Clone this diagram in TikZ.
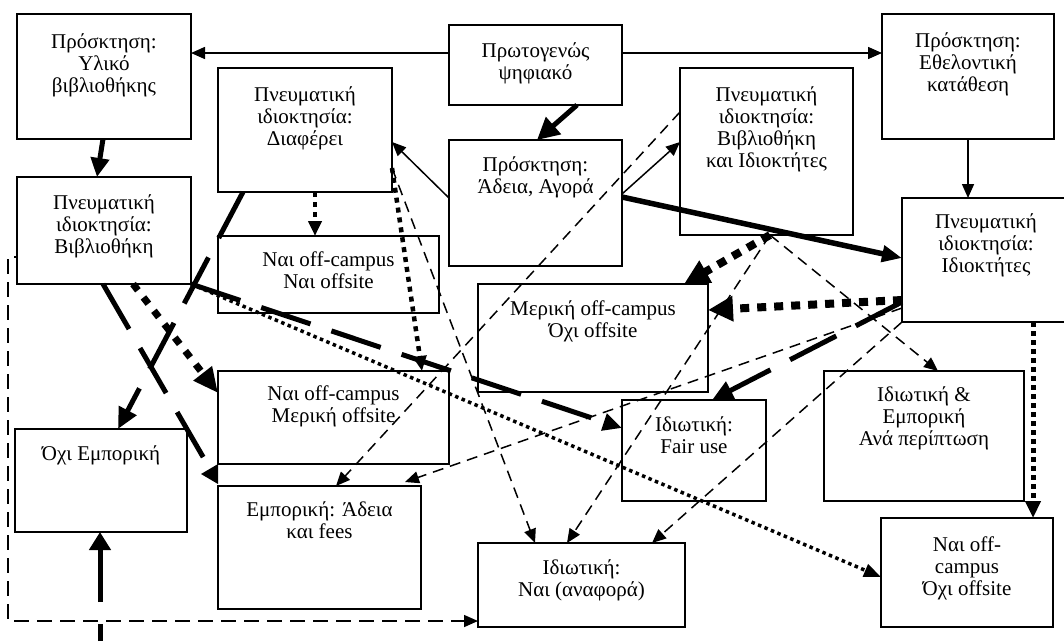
\documentclass[tikz,border=0pt]{standalone}
\usepackage{fontspec}
\setmainfont{Liberation Serif}
\usetikzlibrary{arrows.meta}
\begin{document}
\begin{tikzpicture}[x=1pt,y=-1pt,
  box/.style={draw, line width=1.6pt, fill=white, rectangle, outer sep=0pt, inner sep=0pt},
  txt/.style={align=center, font=\fontsize{21}{22}\selectfont, inner sep=0pt, anchor=base},
  thinA/.style={line width=1.5pt, -{Triangle[length=14pt,width=12pt]}},
  thinD/.style={thinA, dash pattern=on 11pt off 7pt},
  fat/.style={line width=5pt, -{Triangle[length=21pt,width=19pt]}},
  fatD/.style={fat, dash pattern=on 52pt off 22pt},
  sqK/.style={line width=4.5pt, line cap=butt, dash pattern=on 5pt off 5pt, -{Triangle[length=15pt,width=13pt]}},
  sqL/.style={line width=7pt, line cap=butt, dash pattern=on 8pt off 9pt, -{Triangle[length=25pt,width=22pt]}},
  sqT/.style={line width=8pt, line cap=butt, dash pattern=on 9pt off 8pt, -{Triangle[length=25pt,width=24pt]}},
  sqY/.style={line width=5pt, line cap=butt, dash pattern=on 5pt off 4pt, -{Triangle[length=17pt,width=15pt]}},
  sqM/.style={line width=3.5pt, line cap=butt, dash pattern=on 3.5pt off 3.5pt, -{Triangle[length=17pt,width=13pt]}},
  elbow/.style={line width=1.5pt, dash pattern=on 15pt off 8pt, -{Triangle[length=14pt,width=12pt]}}
]
\useasboundingbox (0,0) rectangle (1064,641);

% boxes
\node[box, minimum width=174pt, minimum height=125pt] (b1) at (104,76.5) {};
\node[box, minimum width=173pt, minimum height=80pt] (b2) at (535.5,65) {};
\node[box, minimum width=172pt, minimum height=125pt] (b3) at (968,76.5) {};
\node[box, minimum width=174pt, minimum height=124pt] (b4) at (305,130) {};
\node[box, minimum width=173pt, minimum height=126pt] (b5) at (535.5,203) {};
\node[box, minimum width=173pt, minimum height=167pt] (b6) at (766.5,151.5) {};
\node[box, minimum width=174pt, minimum height=107pt] (b7) at (104,230.5) {};
\node[box, minimum width=221pt, minimum height=77pt] (b8) at (328.5,274.5) {};
\node[box, minimum width=168pt, minimum height=124pt] (b9) at (986,260) {};
\node[box, minimum width=230pt, minimum height=108pt] (b10) at (593,338) {};
\node[box, minimum width=231pt, minimum height=93pt] (b11) at (333.5,417.5) {};
\node[box, minimum width=172pt, minimum height=103pt] (b12) at (101,480.5) {};
\node[box, minimum width=203pt, minimum height=123pt] (b13) at (319.5,547.5) {};
\node[box, minimum width=144pt, minimum height=101pt] (b14) at (694,450.5) {};
\node[box, minimum width=200pt, minimum height=130pt] (b15) at (924,436) {};
\node[box, minimum width=207pt, minimum height=84pt] (b16) at (581.5,585) {};
\node[box, minimum width=172pt, minimum height=109pt] (b17) at (967,572.5) {};

% texts (base anchor = baseline of the last line)
\node[txt] (t1) at ([yshift=-78pt]b1.north) {Πρόσκτηση:\\Υλικό\\βιβλιοθήκης};
\node[txt] (t2) at ([yshift=-54pt]b2.north) {Πρωτογενώς\\ψηφιακό};
\node[txt] (t3) at ([yshift=-77pt]b3.north) {Πρόσκτηση:\\Εθελοντική\\κατάθεση};
\node[txt] (t4) at ([yshift=-77pt]b4.north) {Πνευματική\\ιδιοκτησία:\\Διαφέρει};
\node[txt] (t5) at ([yshift=-53pt]b5.north) {Πρόσκτηση:\\Άδεια, Αγορά};
\node[txt] (t6) at ([yshift=-99pt]b6.north) {Πνευματική\\ιδιοκτησία:\\Βιβλιοθήκη\\και Ιδιοκτήτες};
\node[txt] (t7) at ([yshift=-76pt]b7.north) {Πνευματική\\ιδιοκτησία:\\Βιβλιοθήκη};
\node[txt] (t8) at ([yshift=-52pt]b8.north) {Ναι off-campus\\Ναι offsite};
\node[txt] (t9) at ([yshift=-74pt]b9.north) {Πνευματική\\ιδιοκτησία:\\Ιδιοκτήτες};
\node[txt] (t10) at ([yshift=-53pt]b10.north) {Μερική off-campus\\Όχι offsite};
\node[txt] (t11) at ([yshift=-51pt]b11.north) {Ναι off-campus\\Μερική offsite};
\node[txt] (t12) at ([yshift=-31pt]b12.north) {Όχι Εμπορική};
\node[txt] (t13) at ([yshift=-52pt]b13.north) {Εμπορική: Άδεια\\και fees};
\node[txt] (t14) at ([yshift=-53pt]b14.north) {Ιδιωτική:\\Fair use};
\node[txt] (t15) at ([yshift=-74pt]b15.north) {Ιδιωτική \&\\Εμπορική\\Ανά περίπτωση};
\node[txt] (t16) at ([yshift=-53pt]b16.north) {Ιδιωτική:\\Ναι (αναφορά)};
\node[txt] (t17) at ([yshift=-77pt]b17.north) {Ναι off-\\campus\\Όχι offsite};

% helper coordinates
\coordinate (jend) at (206,462);
\coordinate (zbot) at (100,641);
\coordinate (aa) at (8,400);

% connectors
\draw[thinA] ([yshift=-28pt]b2.north west) -- ([yshift=-39pt]b1.north east);
\draw[thinA] ([yshift=-28pt]b2.north east) -- ([yshift=-39pt]b3.north west);
\draw[fat, -{Triangle[length=22pt,width=22pt]}] ([xshift=128pt]b2.south west) -- ([xshift=88pt]b5.north west);
\draw[fat, -{Triangle[length=19pt,width=18pt]}] ([xshift=86pt]b1.south west) -- ([xshift=80pt]b7.north west);
\draw[thinA] (b3.south) -- ([xshift=66pt]b9.north west);
\draw[thinA] ([yshift=-58pt]b5.north west) -- ([yshift=-74pt]b4.north east);
\draw[thinA] ([yshift=-54pt]b5.north east) -- ([yshift=-74pt]b6.north west);
\draw[fat, line width=5.5pt, -{Triangle[length=20pt,width=16pt]}] ([yshift=-57pt]b5.north east) -- ([yshift=-60pt]b9.north west);
\draw[fatD] ([xshift=25pt]b4.south west) -- ([xshift=103pt]b12.north west);
\draw[fatD, -] ([xshift=86pt]b7.south west) -- (jend);
\fill (218,464) -- (218,484) -- (201,474) -- cycle;
\draw[sqK] ([xshift=97pt]b4.south west) -- ([xshift=97pt]b8.north west);
\draw[sqL] ([xshift=116pt]b7.south west) -- ([yshift=-22pt]b11.north west);
\draw[sqM] (b7.south east) -- ([yshift=-59pt]b17.north west);
\draw[fatD, -{Triangle[length=19pt,width=17pt]}] (b7.south east) -- ([yshift=-28pt]b14.north west);
\draw[sqK] ([yshift=-100pt]b4.north east) -- ([xshift=204pt]b11.north west);
\draw[thinD] ([yshift=-100pt]b4.north east) -- ([xshift=57pt]b16.north west);
\draw[thinD] ([yshift=-44pt]b6.north west) -- ([xshift=118pt]b13.north west);
\draw[thinD] ([yshift=-110pt]b9.north west) -- ([xshift=-16pt,yshift=4pt]b13.north east);
\draw[fatD] ([yshift=-104pt]b9.north west) -- ([xshift=90pt]b14.north west);
\draw[sqT] ([yshift=-102pt]b9.north west) -- ([yshift=-26pt]b10.north east);
\draw[sqT] ([xshift=90pt]b6.south west) -- ([xshift=-24pt]b10.north east);
\draw[thinD] ([xshift=90pt]b6.south west) -- ([xshift=114pt]b15.north west);
\draw[thinD] ([xshift=90pt]b6.south west) -- ([xshift=89pt]b16.north west);
\draw[thinD] (b9.south west) -- ([xshift=174pt]b16.north west);
\draw[sqY] ([xshift=131pt]b9.south west) -- ([xshift=152pt]b17.north west);
\draw[fatD, dash phase=35pt, -{Triangle[length=18pt,width=21pt]}] (zbot) -- ([xshift=85pt]b12.south west);
\draw[elbow, dash phase=12pt] ([yshift=-80pt]b7.north west) -| (aa) |- ([yshift=-78pt]b16.north west);
\end{tikzpicture}
\end{document}
